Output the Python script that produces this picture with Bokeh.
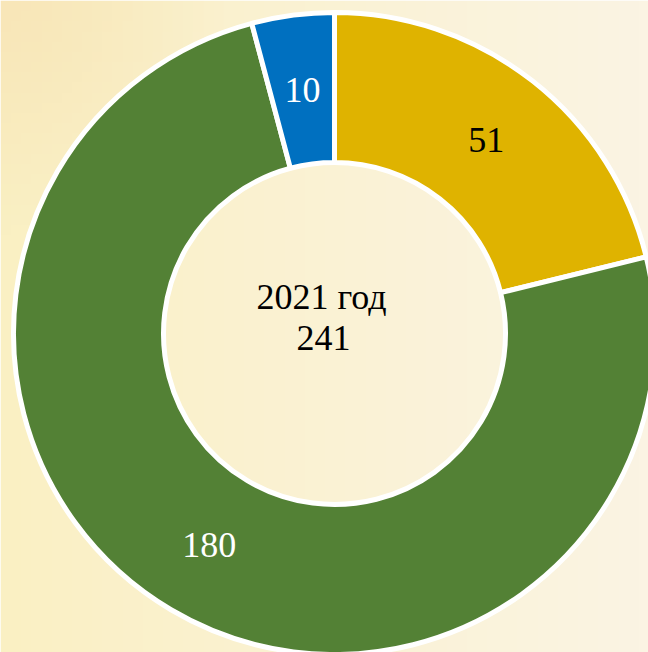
import numpy as np
from bokeh.plotting import figure
from bokeh.models import Range1d, ColumnDataSource
from bokeh.core.properties import value
from bokeh.embed import file_html
from bokeh.resources import INLINE

# data
categories = ["A", "B", "C"]
values = [51, 180, 10]
colors = ["#DFB300", "#538135", "#0070C0"]
label_colors = ["#000000", "#FFFFFF", "#FFFFFF"]
center_title = "2021 год"
total = sum(values)

FONT = "'Liberation Serif', 'Times New Roman', serif"

W, H = 648, 652
p = figure(width=W, height=H, output_backend="svg", toolbar_location=None,
           x_range=Range1d(0, W), y_range=Range1d(-H, 0),
           min_border=0)
p.axis.visible = False
p.grid.visible = False
p.outline_line_color = None

# background gradient
ny, nx = 64, 64
xs = np.linspace(0, 1, nx)[None, :]
ys = np.linspace(0, 1, ny)[:, None]
left = np.array([250, 240, 195], float)
right = np.array([251, 244, 227], float)
tl = np.array([248, 230, 184], float)
t = xs ** 0.9
col = left[None, None, :] * (1 - t[..., None]) + right[None, None, :] * t[..., None]
col = np.broadcast_to(col, (ny, nx, 3)).copy()
w_tl = np.clip(1 - np.sqrt(xs ** 2 + (1 - ys) ** 2) / 0.35, 0, 1)
col = col * (1 - w_tl[..., None]) + tl[None, None, :] * w_tl[..., None]
img = np.empty((ny, nx), dtype=np.uint32)
v = img.view(dtype=np.uint8).reshape((ny, nx, 4))
v[..., 0] = col[..., 0]
v[..., 1] = col[..., 1]
v[..., 2] = col[..., 2]
v[..., 3] = 255
p.image_rgba(image=[img], x=0, y=-H, dw=W, dh=H)

cx, cy = 334, -333
r_in, r_out = 171, 321

fr = np.array(values) / total
ends = np.cumsum(fr)
starts = ends - fr
start_angle = np.pi / 2 - 2 * np.pi * starts
end_angle = np.pi / 2 - 2 * np.pi * ends
mid = (starts + ends) / 2
r_mid = (r_in + r_out) / 2
lx = cx + r_mid * np.sin(2 * np.pi * mid)
ly = cy + r_mid * np.cos(2 * np.pi * mid)

src = ColumnDataSource(dict(cat=categories, val=values, color=colors,
                            sa=start_angle, ea=end_angle,
                            lx=lx, ly=ly, lab=[str(v) for v in values],
                            lc=label_colors))
p.annular_wedge(x=cx, y=cy, inner_radius=r_in, outer_radius=r_out,
                start_angle="sa", end_angle="ea", direction="clock",
                fill_color="color", line_color="white", line_width=5,
                source=src)

p.text(x="lx", y="ly", text="lab", text_color="lc", source=src,
       text_font=value(FONT), text_font_size="36px",
       text_align="center", text_baseline="middle")

p.text(x=[321, 323], y=[cy + 37, cy - 4], text=[center_title, str(total)],
       text_color="#000000", text_font=value(FONT),
       text_font_size="36px", text_align="center", text_baseline="middle")

open("out.html", "w").write(file_html(p, INLINE))
